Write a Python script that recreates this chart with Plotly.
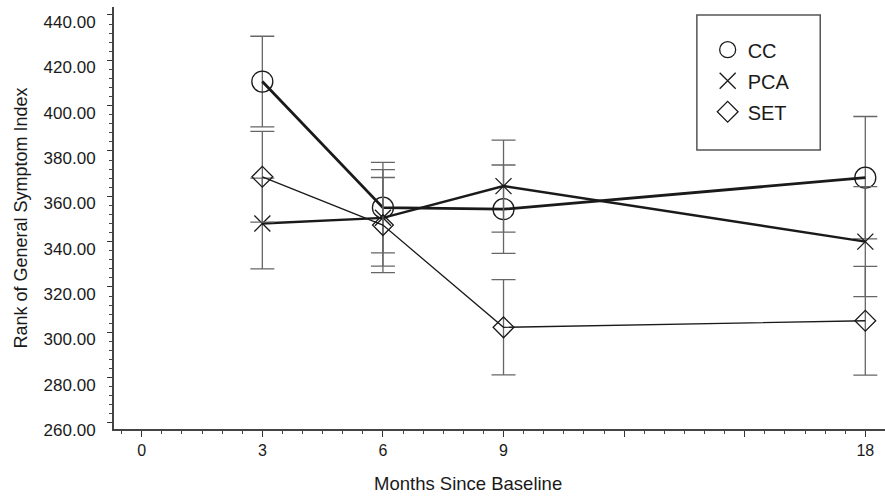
import plotly.graph_objects as go

months = [3, 6, 9, 18]
cc = [410.6, 355.0, 354.3, 368.2]
cc_err = [20.0, 20.0, 19.5, 27.0]
pca = [348.0, 350.5, 364.5, 340.0]
pca_err = [20.0, 21.3, 20.3, 24.3]
set_ = [368.6, 347.3, 302.2, 305.1]
set_err = [20.0, 21.0, 21.0, 24.0]

x_tickvals = [0, 3, 6, 9, 12, 15, 18]
x_ticktext = ["0", "3", "6", "9", "", "", "18"]
y_tickvals = [260, 280, 300, 320, 340, 360, 380, 400, 420, 440]

FONT = "Liberation Sans, Arial, Helvetica, sans-serif"
INK = "#1a1a1a"
ERR = "#666666"

fig = go.Figure()

def add(name, y, err, symbol, size, lw, group):
    mk = dict(symbol=symbol, size=size, color=INK, line=dict(color=INK, width=1.3))
    fig.add_trace(go.Scatter(
        x=months, y=y, name=name, mode="lines+markers",
        showlegend=False,
        line=dict(color=INK, width=lw),
        marker=mk,
        error_y=dict(type="data", array=err, visible=True,
                     color=ERR, thickness=1.3, width=12),
    ))
    # legend-only entry (markers only, like the reference key)
    fig.add_trace(go.Scatter(
        x=[None], y=[None], name=name, mode="markers",
        legendgroup=group, showlegend=True, marker=mk,
    ))

add("CC", cc, cc_err, "circle-open", 21, 2.8, "a")
add("PCA", pca, pca_err, "x-thin-open", 16, 2.4, "b")
add("SET", set_, set_err, "diamond-open", 16, 1.3, "c")

fig.add_shape(type="rect", xref="paper", yref="paper",
              x0=0.756, x1=0.916, y0=0.661, y1=0.981,
              line=dict(color="#555555", width=1.5), fillcolor="rgba(0,0,0,0)")

fig.add_annotation(text="Months Since Baseline", xref="paper", yref="paper",
                   x=0.459, y=-0.128, xanchor="center", yanchor="middle",
                   showarrow=False, font=dict(size=18.5, family=FONT, color=INK))

fig.update_layout(
    width=885, height=498,
    margin=dict(l=114, r=0, t=7, b=69),
    paper_bgcolor="white", plot_bgcolor="white",
    font=dict(family=FONT, color=INK, size=16),
    showlegend=True,
    legend=dict(x=0.77, y=0.945, xanchor="left", yanchor="top",
                bgcolor="rgba(0,0,0,0)", borderwidth=0,
                font=dict(size=20, family=FONT, color=INK),
                tracegroupgap=2, itemsizing="trace"),
    xaxis=dict(
        range=[-0.69, 18.49], showgrid=False, zeroline=False,
        showline=True, linecolor="#444444", linewidth=2,
        tickmode="array", tickvals=x_tickvals, ticktext=x_ticktext,
        ticks="outside", ticklen=6, tickwidth=1.3, tickcolor="#333333",
        tickfont=dict(size=16, family=FONT, color=INK),
        minor=dict(dtick=0.5, tick0=0, ticks="outside", ticklen=3,
                   tickwidth=1, tickcolor="#444444"),
    ),
    yaxis=dict(
        range=[257.35, 443.5], showgrid=False, zeroline=False,
        showline=True, linecolor="#444444", linewidth=2,
        tickmode="array", tickvals=y_tickvals, tickformat=".2f",
        ticks="outside", ticklen=5, tickwidth=1.3, tickcolor="#333333",
        tickfont=dict(size=17, family=FONT, color=INK),
        ticklabelstandoff=8, ticklabelshift=7,
        minor=dict(dtick=4, tick0=260, ticks="outside", ticklen=3,
                   tickwidth=1, tickcolor="#444444"),
        title=dict(text="Rank of General Symptom Index", standoff=11,
                   font=dict(size=18, family=FONT, color=INK)),
    ),
)

fig.write_html("out.html")
